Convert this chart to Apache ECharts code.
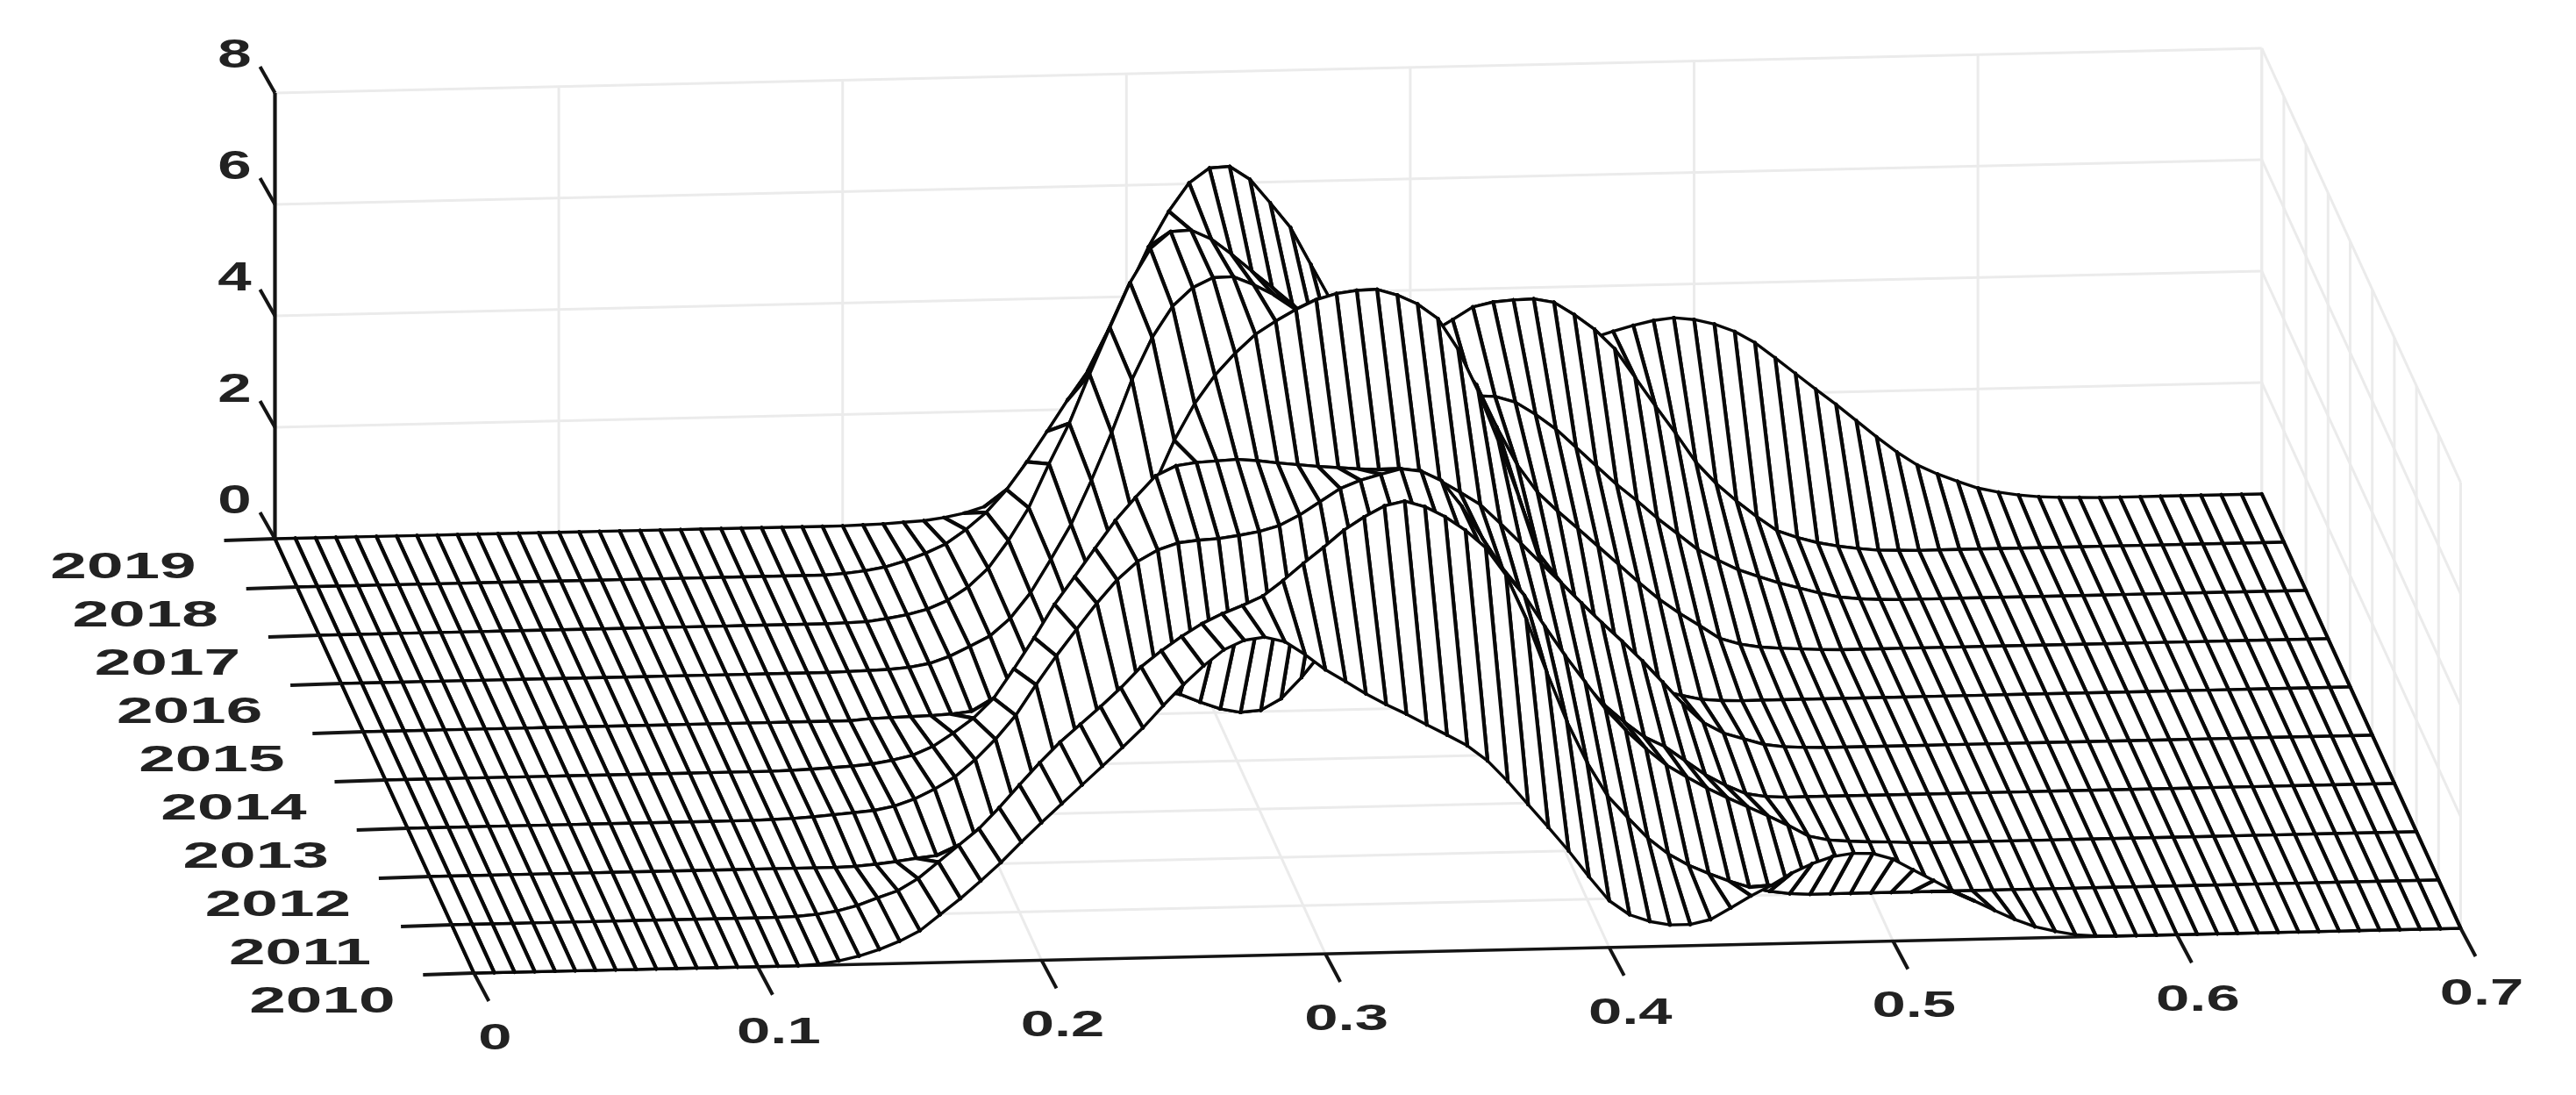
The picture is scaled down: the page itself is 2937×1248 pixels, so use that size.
<!DOCTYPE html>
<html>
<head>
<meta charset="utf-8">
<style>html,body{margin:0;background:#fff}#chart{width:2937px;height:1248px}</style>
<script src="https://cdn.jsdelivr.net/npm/echarts@6/dist/echarts.min.js"></script>
</head>
<body>
<div id="chart"></div>
<script>
// tick labels
const yearLabels = [2019, 2018, 2017, 2016, 2015, 2014, 2013, 2012, 2011, 2010]
const xTicks = [0, 0.1, 0.2, 0.3, 0.4, 0.5, 0.6, 0.7]
const zTicks = [0, 2, 4, 6, 8]

// density, one value per mesh column (column spacing 0.7 / 98)
const z2019 = [
  0,0,0,0,0,0,0,0,0,0, 0,0,0,0,0,0,0,0,0,0, 0,0,0,0,0,0,0,0,0,.01,
  .02,.04,.06,.11,.18,.29,.45,.62,.8,.97,
  1.12,1.27,1.4,1.52,1.64,1.76,1.88,2.02,2.13,2.2,
  2.28,2.35,2.42,2.49,2.55,2.63,2.7,2.74,2.77,2.8,
  2.83,2.85,2.88,2.91,2.98,3.07,3.18,3.28,3.36,3.4,
  3.36,3.27,3.13,2.92,2.64,2.35,2.06,1.78,1.48,1.18,
  .9,.66,.49,.35,.22,.14,.08,.04,.02,.01,
  0,0,0,0,0,0,0,0,0]
const z2018 = [
  0,0,0,0,0,0,0,0,0,0, 0,0,0,0,0,0,0,0,0,0, 0,0,0,0,0,0,0,.02,.06,.12,
  .22,.35,.51,.76,1.06,1.46,1.95,2.49,3.04,3.55,
  4.26,5.0,5.76,6.39,6.89,7.15,7.17,6.93,6.5,6.05,
  5.38,4.72,4.28,4.0,3.93,3.98,4.12,4.33,4.55,4.63,
  4.66,4.67,4.6,4.37,4.1,3.74,3.22,2.7,2.2,1.67,
  1.28,.96,.67,.41,.28,.18,.11,.06,.02,.01,
  0,0,0,0,0,0,0,0,0,0, 0,0,0,0,0,0,0,0,0]
const z2017 = [
  0,0,0,0,0,0,0,0,0,0, 0,0,0,0,0,0,0,0,0,0, 0,0,0,0,0,0,.01,.02,.07,.13,
  .22,.37,.6,.93,1.42,2.0,2.78,3.5,4.37,5.2,
  6.0,6.6,6.9,6.92,6.75,6.47,6.16,5.86,5.55,5.2,
  4.75,4.4,4.2,4.02,3.92,3.86,3.84,3.83,3.81,3.7,
  3.47,3.2,2.86,2.52,2.18,1.88,1.56,1.27,.98,.78,
  .6,.47,.35,.25,.15,.07,.03,.01,0,0,
  0,0,0,0,0,0,0,0,0,0, 0,0,0,0,0,0,0,0,0]
const z2016 = [
  0,0,0,0,0,0,0,0,0,0, 0,0,0,0,0,0,0,0,0,0, 0,0,0,0,0,.01,.02,.03,.06,.12,
  .24,.41,.59,.9,1.35,1.94,2.56,3.34,4.19,5.13,
  5.88,6.43,6.76,6.93,6.94,6.79,6.6,6.31,6.0,5.72,
  5.55,5.48,5.45,5.49,5.5,5.38,4.9,4.13,3.45,2.95,
  2.6,2.28,1.95,1.62,1.29,.98,.72,.49,.25,.14,
  .08,.05,.03,.01,0,0,0,0,0,0,
  0,0,0,0,0,0,0,0,0,0, 0,0,0,0,0,0,0,0,0]
const z2015 = [
  0,0,0,0,0,0,0,0,0,0, 0,0,0,0,0,0,0,0,0,0, 0,0,0,0,0,.03,.04,.05,.06,.08,
  .12,.25,.48,.85,1.3,1.8,2.4,3.0,3.5,4.1,
  4.9,5.55,6.05,6.44,6.77,7.0,7.2,7.37,7.47,7.52,
  7.53,7.42,7.25,6.98,6.42,5.65,4.74,3.74,2.7,2.02,
  1.47,1.01,.65,.39,.22,.12,.04,.01,0,0,
  0,0,0,0,0,0,0,0,0,0,
  0,0,0,0,0,0,0,0,0,0, 0,0,0,0,0,0,0,0,0]
const z2014 = [
  0,0,0,0,0,0,0,0,0,0, 0,0,0,0,0,0,0,0,0,0, .01,.02,.04,.06,.09,.15,.23,.38,.61,.87,
  1.22,1.74,2.29,2.88,3.37,3.87,4.36,4.77,5.15,5.32,
  5.37,5.39,5.41,5.38,5.33,5.29,5.25,5.22,5.19,5.17,
  5.14,5.09,4.95,4.73,4.5,4.15,3.79,3.42,3.06,2.69,
  2.33,1.99,1.63,1.24,.84,.5,.3,.19,.08,.03,
  .01,0,0,0,0,0,0,0,0,0,
  0,0,0,0,0,0,0,0,0,0, 0,0,0,0,0,0,0,0,0]
const z2013 = [
  0,0,0,0,0,0,0,0,0,0, 0,0,0,0,0,0,0,0,.01,.02, .04,.07,.1,.13,.2,.32,.49,.7,1.0,1.36,
  1.78,2.32,2.83,3.3,3.76,4.17,4.49,4.69,4.81,4.85,
  4.87,4.92,4.98,5.08,5.26,5.49,5.72,5.86,5.96,6.05,
  6.0,5.82,5.35,4.78,4.22,3.66,3.12,2.62,2.15,1.74,
  1.42,1.14,.96,.7,.44,.24,.08,.02,0,0,
  0,0,0,0,0,0,0,0,0,0,
  0,0,0,0,0,0,0,0,0,0, 0,0,0,0,0,0,0,0,0]
const z2012 = [
  0,0,0,0,0,0,0,0,0,0, 0,0,0,0,0,0,0,0,0,0, 0,.01,.04,.08,.13,.17,.25,.39,.58,.86,
  1.22,1.65,2.12,2.6,2.98,3.08,3.02,2.97,2.82,2.69,
  2.62,2.65,2.85,3.22,3.66,4.22,4.71,5.22,5.55,5.68,
  5.7,5.61,5.38,5.03,4.6,4.04,3.51,3.02,2.53,2.14,
  1.8,1.5,1.28,1.07,.89,.72,.55,.37,.17,.09,
  .06,.04,.03,.01,0,0,0,0,0,0,
  0,0,0,0,0,0,0,0,0,0, 0,0,0,0,0,0,0,0,0]
const z2011 = [
  0,0,0,0,0,0,0,0,0,0, 0,0,0,0,0,0,0,.01,.04,.09, .18,.31,.43,.64,.93,1.22,1.51,1.88,2.28,2.67,
  3.03,3.34,3.65,3.98,4.35,4.63,4.88,5.1,5.27,5.41,
  5.57,5.84,6.14,6.42,6.72,6.95,7.14,7.22,7.11,6.92,
  6.67,6.35,5.85,5.05,4.1,3.2,2.45,1.85,1.45,1.07,
  .78,.57,.41,.27,.15,.07,.02,0,0,0,
  0,0,0,0,0,0,0,0,0,0,
  0,0,0,0,0,0,0,0,0,0, 0,0,0,0,0,0,0,0,0]
const z2010 = [
  0,0,0,0,0,0,0,0,0,0, 0,0,0,0,0,0,0,.02,.07,.15, .26,.4,.58,.86,1.14,1.45,1.77,2.13,2.47,2.8,
  3.13,3.46,3.79,4.13,4.52,4.89,5.22,5.5,5.66,5.71,
  5.62,5.38,5.1,4.88,4.65,4.45,4.27,4.07,3.88,3.68,
  3.4,3.02,2.6,2.18,1.75,1.28,.84,.58,.45,.38,
  .38,.46,.66,.87,1.05,1.26,1.42,1.54,1.59,1.58,
  1.47,1.27,1.07,.87,.69,.51,.34,.2,.11,.04,
  .01,0,0,0,0,0,0,0,0,0, 0,0,0,0,0,0,0,0,0]

// back row first, the painter order needs it
const rows = [z2019, z2018, z2017, z2016, z2015, z2014, z2013, z2012, z2011, z2010]
const columnStep = 0.7 / 98

// oblique view: data (x, row, density) to plot units, which are the pixels of the hidden grid
function project(x, row, z) {
  return [313.5 + x * 3236 + row * 25.2, 614 - x * 72.9 + row * 55 - z * 63.5]
}

const segment = (from, to, stroke, lineWidth) => ({ from, to, stroke, lineWidth })
const GRID_COLOR = '#ebebeb'
const AXIS_COLOR = '#141414'
const lastRow = rows.length - 1
const xMax = xTicks[xTicks.length - 1]
const zMax = zTicks[zTicks.length - 1]

// pale box lines
const gridLines = []
xTicks.forEach(x => {
  gridLines.push(segment([x, 0, 0], [x, 0, zMax], GRID_COLOR, 3))
  gridLines.push(segment([x, 0, 0], [x, lastRow, 0], GRID_COLOR, 3))
})
zTicks.forEach(z => {
  gridLines.push(segment([0, 0, z], [xMax, 0, z], GRID_COLOR, 3))
  gridLines.push(segment([xMax, 0, z], [xMax, lastRow, z], GRID_COLOR, 3))
})
yearLabels.forEach((year, row) => {
  gridLines.push(segment([0, row, 0], [xMax, row, 0], GRID_COLOR, 3))
  gridLines.push(segment([xMax, row, 0], [xMax, row, zMax], GRID_COLOR, 3))
})

// black axis lines, under the surface
gridLines.push(segment([0, lastRow, 0], [xMax, lastRow, 0], AXIS_COLOR, 3.6))
gridLines.push(segment([0, 0, 0], [0, lastRow, 0], AXIS_COLOR, 3.6))
gridLines.push(segment([xMax, 0, 0], [xMax, lastRow, 0], AXIS_COLOR, 3.6))

function renderSegment(params, api) {
  const item = gridLines[params.dataIndex]
  const a = api.coord(project(item.from[0], item.from[1], item.from[2]))
  const b = api.coord(project(item.to[0], item.to[1], item.to[2]))
  return {
    type: 'line',
    shape: { x1: a[0], y1: a[1], x2: b[0], y2: b[1] },
    style: { stroke: item.stroke, lineWidth: item.lineWidth, fill: null },
  }
}

// one quad per mesh cell, far cells first
const cells = []
for (let row = 0; row < lastRow; row++) {
  for (let col = rows[row].length - 2; col >= 0; col--) {
    cells.push([row, col])
  }
}

function renderCell(params, api) {
  const [row, col] = cells[params.dataIndex]
  const at = (c, r) => api.coord(project(c * columnStep, r, rows[r][c]))
  const a = at(col, row)
  const b = at(col + 1, row)
  const c = at(col + 1, row + 1)
  const d = at(col, row + 1)
  const edge = (p, q, w) => ({
    type: 'line',
    shape: { x1: p[0], y1: p[1], x2: q[0], y2: q[1] },
    style: { stroke: '#080808', lineWidth: w, lineCap: 'round', fill: null },
  })
  return {
    type: 'group',
    children: [
      { type: 'polygon', shape: { points: [a, b, c, d] }, style: { fill: '#fff', stroke: null } },
      edge(a, d, 4.2),
      edge(b, c, 4.2),
      edge(a, b, 3.4),
      edge(d, c, 3.4),
    ],
  }
}

// ticks and their labels, drawn over everything
const tickMarks = []
const tickLabels = []
zTicks.forEach(z => {
  tickMarks.push({ at: [0, 0, z], dx: -17, dy: -30 })
  tickLabels.push({ at: [0, 0, z], dx: -46, dy: -42, text: String(z), scaleX: 1.5, size: 46 })
})
yearLabels.forEach((year, row) => {
  tickMarks.push({ at: [0, row, 0], dx: -58, dy: 2 })
  tickLabels.push({ at: [0, row, 0], dx: -173, dy: 33, text: String(year), scaleX: 1.78, size: 42 })
})
xTicks.forEach(x => {
  tickMarks.push({ at: [x, lastRow, 0], dx: 17, dy: 32 })
  tickLabels.push({ at: [x, lastRow, 0], dx: 24, dy: 75, text: String(x), scaleX: 1.6, size: 43 })
})

function renderTick(params, api) {
  const item = tickMarks[params.dataIndex]
  const a = api.coord(project(item.at[0], item.at[1], item.at[2]))
  return {
    type: 'line',
    shape: { x1: a[0], y1: a[1], x2: a[0] + item.dx, y2: a[1] + item.dy },
    style: { stroke: AXIS_COLOR, lineWidth: 4, fill: null },
  }
}

function renderLabel(params, api) {
  const item = tickLabels[params.dataIndex]
  const a = api.coord(project(item.at[0], item.at[1], item.at[2]))
  return {
    type: 'text',
    x: a[0] + item.dx,
    y: a[1] + item.dy,
    scaleX: item.scaleX,
    style: {
      text: item.text,
      font: 'bold ' + item.size + 'px "Liberation Sans"',
      fill: '#222',
      align: 'center',
      verticalAlign: 'middle',
    },
  }
}

const zAxisLine = {
  type: 'custom',
  coordinateSystem: 'cartesian2d',
  silent: true,
  animation: false,
  data: [0],
  z: 5,
  renderItem(params, api) {
    const a = api.coord(project(0, 0, 0))
    const b = api.coord(project(0, 0, zMax))
    return {
      type: 'line',
      shape: { x1: a[0], y1: a[1], x2: b[0], y2: b[1] },
      style: { stroke: AXIS_COLOR, lineWidth: 4.2, fill: null },
    }
  },
}

function customSeries(list, renderItem, z) {
  return {
    type: 'custom',
    coordinateSystem: 'cartesian2d',
    silent: true,
    animation: false,
    progressive: 0,
    clip: false,
    data: list.map((_, i) => i),
    z,
    renderItem,
  }
}

const chart = echarts.init(document.getElementById('chart'), null, { renderer: 'canvas' })
chart.setOption({
  animation: false,
  backgroundColor: '#fff',
  grid: { left: 0, right: 0, top: 0, bottom: 0 },
  xAxis: { type: 'value', min: 0, max: 2937, show: false },
  yAxis: { type: 'value', min: 0, max: 1248, inverse: true, show: false },
  series: [
    customSeries(gridLines, renderSegment, 1),
    customSeries(cells, renderCell, 2),
    customSeries(tickMarks, renderTick, 3),
    customSeries(tickLabels, renderLabel, 4),
    zAxisLine,
  ],
})
</script>
</body>
</html>
